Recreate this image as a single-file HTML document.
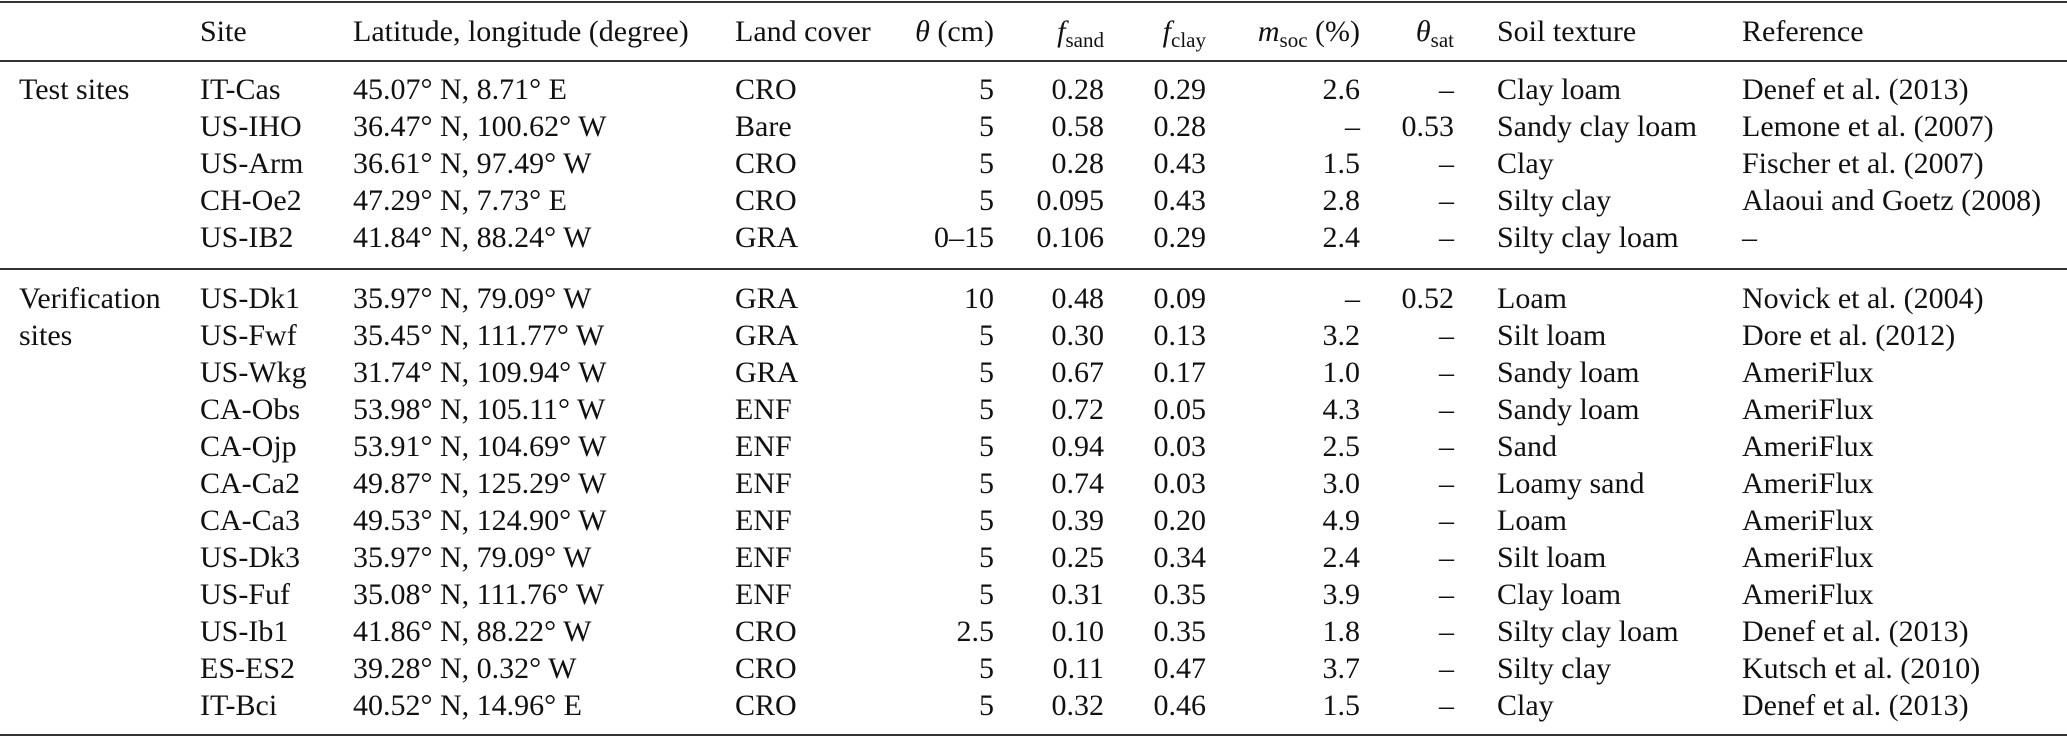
<!DOCTYPE html>
<html><head><meta charset="utf-8"><style>
body{margin:0;width:2067px;height:738px;background:#fff;overflow:hidden;position:relative;font-family:"Liberation Serif",serif;font-size:30px;color:#111}
.r{position:absolute;height:37px;line-height:37px;white-space:nowrap}
.l{position:absolute;left:0;width:2067px;background:#333}
.c{position:absolute;top:0}
.rt{text-align:right}
sub{font-size:21px;vertical-align:-6px;line-height:0}
i{font-style:italic}
</style></head><body>
<div class="l" style="top:1px;height:2px"></div>
<div class="l" style="top:60px;height:2px"></div>
<div class="l" style="top:268px;height:1.5px"></div>
<div class="l" style="top:734px;height:2px"></div>
<div id="t"></div>
<script>
const X={a:19,s:200,lat:353,lc:735,th:994,fs:1104,fc:1206,m:1360,ts:1454,st:1497,ref:1742};
function row(y,v){
 let h='<div class="r" style="top:'+(y-18.5)+'px;left:0;width:2067px">';
 h+='<span class="c" style="left:'+X.a+'px">'+v[0]+'</span>';
 h+='<span class="c" style="left:'+X.s+'px">'+v[1]+'</span>';
 h+='<span class="c" style="left:'+X.lat+'px">'+v[2]+'</span>';
 h+='<span class="c" style="left:'+X.lc+'px">'+v[3]+'</span>';
 h+='<span class="c rt" style="right:'+(2067-X.th)+'px">'+v[4]+'</span>';
 h+='<span class="c rt" style="right:'+(2067-X.fs)+'px">'+v[5]+'</span>';
 h+='<span class="c rt" style="right:'+(2067-X.fc)+'px">'+v[6]+'</span>';
 h+='<span class="c rt" style="right:'+(2067-X.m)+'px">'+v[7]+'</span>';
 h+='<span class="c rt" style="right:'+(2067-X.ts)+'px">'+v[8]+'</span>';
 h+='<span class="c" style="left:'+X.st+'px">'+v[9]+'</span>';
 h+='<span class="c" style="left:'+X.ref+'px">'+v[10]+'</span>';
 return h+'</div>';
}
let o=row(31,['','Site','Latitude, longitude (degree)','Land cover','<i>θ</i> (cm)','<i>f</i><sub>sand</sub>','<i>f</i><sub>clay</sub>','<i>m</i><sub>soc</sub> (%)','<i>θ</i><sub>sat</sub>','Soil texture','Reference']);
const T=[
['Test sites','IT-Cas','45.07° N, 8.71° E','CRO','5','0.28','0.29','2.6','–','Clay loam','Denef et al. (2013)'],
['','US-IHO','36.47° N, 100.62° W','Bare','5','0.58','0.28','–','0.53','Sandy clay loam','Lemone et al. (2007)'],
['','US-Arm','36.61° N, 97.49° W','CRO','5','0.28','0.43','1.5','–','Clay','Fischer et al. (2007)'],
['','CH-Oe2','47.29° N, 7.73° E','CRO','5','0.095','0.43','2.8','–','Silty clay','Alaoui and Goetz (2008)'],
['','US-IB2','41.84° N, 88.24° W','GRA','0–15','0.106','0.29','2.4','–','Silty clay loam','–']];
const V=[
['Verification','US-Dk1','35.97° N, 79.09° W','GRA','10','0.48','0.09','–','0.52','Loam','Novick et al. (2004)'],
['sites','US-Fwf','35.45° N, 111.77° W','GRA','5','0.30','0.13','3.2','–','Silt loam','Dore et al. (2012)'],
['','US-Wkg','31.74° N, 109.94° W','GRA','5','0.67','0.17','1.0','–','Sandy loam','AmeriFlux'],
['','CA-Obs','53.98° N, 105.11° W','ENF','5','0.72','0.05','4.3','–','Sandy loam','AmeriFlux'],
['','CA-Ojp','53.91° N, 104.69° W','ENF','5','0.94','0.03','2.5','–','Sand','AmeriFlux'],
['','CA-Ca2','49.87° N, 125.29° W','ENF','5','0.74','0.03','3.0','–','Loamy sand','AmeriFlux'],
['','CA-Ca3','49.53° N, 124.90° W','ENF','5','0.39','0.20','4.9','–','Loam','AmeriFlux'],
['','US-Dk3','35.97° N, 79.09° W','ENF','5','0.25','0.34','2.4','–','Silt loam','AmeriFlux'],
['','US-Fuf','35.08° N, 111.76° W','ENF','5','0.31','0.35','3.9','–','Clay loam','AmeriFlux'],
['','US-Ib1','41.86° N, 88.22° W','CRO','2.5','0.10','0.35','1.8','–','Silty clay loam','Denef et al. (2013)'],
['','ES-ES2','39.28° N, 0.32° W','CRO','5','0.11','0.47','3.7','–','Silty clay','Kutsch et al. (2010)'],
['','IT-Bci','40.52° N, 14.96° E','CRO','5','0.32','0.46','1.5','–','Clay','Denef et al. (2013)']];
T.forEach((v,i)=>o+=row(89+i*37,v));
V.forEach((v,i)=>o+=row(298+i*37.0,v));
document.getElementById('t').innerHTML=o;
</script>
</body></html>
